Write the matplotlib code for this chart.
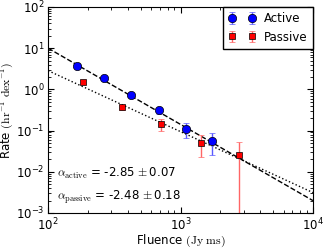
import numpy as np
import matplotlib
matplotlib.use("Agg")
import matplotlib.pyplot as plt

# ------------------------------------------------------------
# data
# ------------------------------------------------------------
active_fluence = [165, 265, 423, 688, 1100, 1730]
active_rate = [3.7, 1.9, 0.73, 0.31, 0.11, 0.056]
active_err = [0.35, 0.2, 0.08, 0.05, 0.045, 0.03]

passive_fluence = [184, 361, 713, 1430, 2760]
passive_rate = [1.5, 0.37, 0.145, 0.05, 0.026]
passive_err = [0.15, 0.05, 0.045, 0.027, 0.026]

# fitted power laws (plotted with slope alpha + 1)
alpha_active, alpha_active_err = -2.85, 0.07
alpha_passive, alpha_passive_err = -2.48, 0.18
norm_active = 10.0
norm_passive = 2.85

plt.rcParams["mathtext.fontset"] = "cm"
plt.rcParams["font.size"] = 8

fig = plt.figure(figsize=(3.23, 2.5), dpi=100)
ax = fig.add_axes([0.149, 0.148, 0.82, 0.824])

xf = np.logspace(2, 4, 200)
ax.plot(xf, norm_active * (xf / 100.0) ** (alpha_active + 1), "k--", lw=1)
ax.plot(xf, norm_passive * (xf / 100.0) ** (alpha_passive + 1), "k:", lw=1)

ax.errorbar(active_fluence, active_rate, yerr=active_err, fmt="o",
            color="b", ecolor=(0.35, 0.35, 1.0), mec="k", mew=0.5,
            ms=6, capsize=2, elinewidth=1, label="Active")
ax.errorbar(passive_fluence, passive_rate, yerr=passive_err, fmt="s",
            color="r", ecolor=(1.0, 0.4, 0.4), mec="k", mew=0.5,
            ms=4.5, capsize=2, elinewidth=1, label="Passive")

ax.set_xscale("log")
ax.set_yscale("log")
ax.set_xlim(1e2, 1e4)
ax.set_ylim(1e-3, 1e2)

ax.tick_params(which="both", direction="in", top=True, right=True,
               labelsize=8.5)
ax.tick_params(which="major", length=4, pad=2.5)
ax.tick_params(which="minor", length=2)

ax.set_xlabel(r"Fluence $(\mathrm{Jy\ ms})$", fontsize=8.5, labelpad=0)
ax.set_ylabel(r"Rate $(\mathrm{hr^{-1}\ dex^{-1}})$", fontsize=8.5, labelpad=0)

ax.text(0.035, 0.19,
        r"$\alpha_{\mathrm{active}}$ = %.2f$\,\pm$%.2f" % (alpha_active, alpha_active_err),
        transform=ax.transAxes, fontsize=8.5, va="center")
ax.text(0.035, 0.075,
        r"$\alpha_{\mathrm{passive}}$ = %.2f$\,\pm$%.2f" % (alpha_passive, alpha_passive_err),
        transform=ax.transAxes, fontsize=8.5, va="center")

leg = ax.legend(loc="upper right", numpoints=2, fontsize=8.5, fancybox=False,
                framealpha=1, edgecolor="k", handletextpad=0.7,
                borderpad=0.45, labelspacing=0.45, handlelength=2.3,
                borderaxespad=0)
leg.get_frame().set_linewidth(1)

plt.savefig("out.png", dpi=100)
